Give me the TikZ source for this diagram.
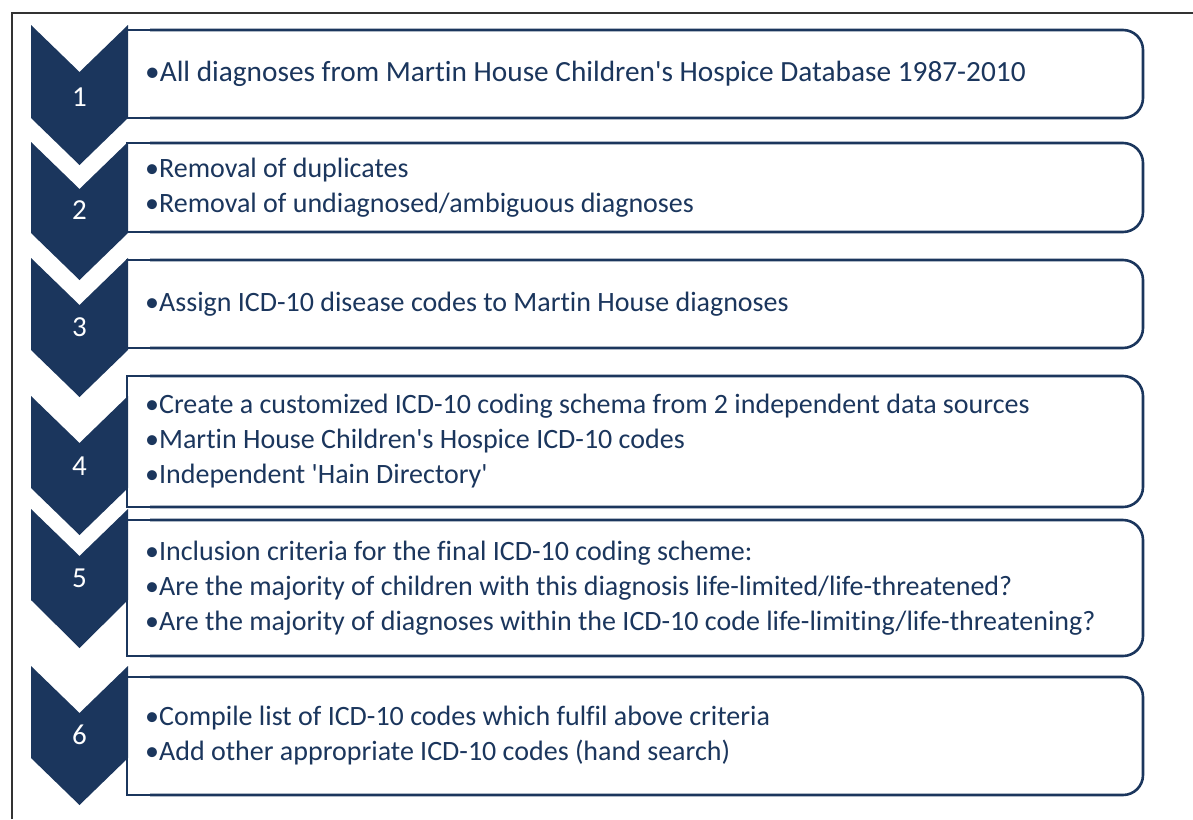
\documentclass[tikz,border=0pt]{standalone}
\usepackage{fontspec}
\setmainfont{Carlito}[Ligatures={TeXOff,NoCommon}]
\definecolor{navy}{RGB}{27,54,93}
\begin{document}
\begin{tikzpicture}[x=1pt,y=-1pt,
  stepbox/.style={draw=navy,line width=2.6pt,fill=white,rounded corners=20pt},
  chev/.style={fill=navy,draw=none},
  num/.style={text=white,font=\fontsize{29}{34}\selectfont},
  txt/.style={text=navy,anchor=west,align=left,inner sep=0pt,font=\fontsize{28}{35}\selectfont}]
\useasboundingbox (0,0) rectangle (1193,819);
\draw[line width=1.2pt,black!80] (12,819) -- (12,13) -- (1193,13);
% boxes: top, bottom
\foreach \i/\t/\b in {1/30/118,2/143/232,3/260/348,4/376/507,5/520/656,6/677/795}{
  \draw[stepbox] (150,\t) -- (1143,\t) -- (1143,\b) -- (150,\b);
  \draw[draw=navy,line width=2.6pt] (160,\t) -- (127,\t) -- (127,\b) -- (160,\b);
  \coordinate (b\i) at (145,{(\t+\b)/2});
}
% chevrons: top, side end, tip
\foreach \i/\t/\s/\p in {1/25/118/165,2/142/233/280,3/258/350/397,4/396/488/535,5/509/600/648,6/666/758/805}{
  \fill[chev] (31,\t) -- (79.5,{\t+47}) -- (128,\t) -- (128,\s) -- (79.5,\p) -- (31,\s) -- cycle;
}
\node[num] (n1) at (79.5,97) {1};
\node[num] (n2) at (79.5,210) {2};
\node[num] (n3) at (79.5,327) {3};
\node[num] (n4) at (79.5,466) {4};
\node[num] (n5) at (79.5,578) {5};
\node[num] (n6) at (79.5,735) {6};
\node[txt,font=\fontsize{29.3}{35}\selectfont] (t1) at (b1) {•All diagnoses from Martin House Children's Hospice Database 1987-2010};
\node[txt] (t2) at (b2) {•Removal of duplicates\\•Removal of undiagnosed/ambiguous diagnoses};
\node[txt] (t3) at (b3) {•Assign ICD-10 disease codes to Martin House diagnoses};
\node[txt] (t4) at (b4) {•Create a customized ICD-10 coding schema from 2 independent data sources\\•Martin House Children's Hospice ICD-10 codes\\•Independent 'Hain Directory'};
\node[txt] (t5) at (b5) {•Inclusion criteria for the final ICD-10 coding scheme:\\•Are the majority of children with this diagnosis life-limited/life-threatened?\\•Are the majority of diagnoses within the ICD-10 code life-limiting/life-threatening?};
\node[txt] (t6) at (b6) {•Compile list of ICD-10 codes which fulfil above criteria\\•Add other appropriate ICD-10 codes (hand search)};
\end{tikzpicture}
\end{document}
